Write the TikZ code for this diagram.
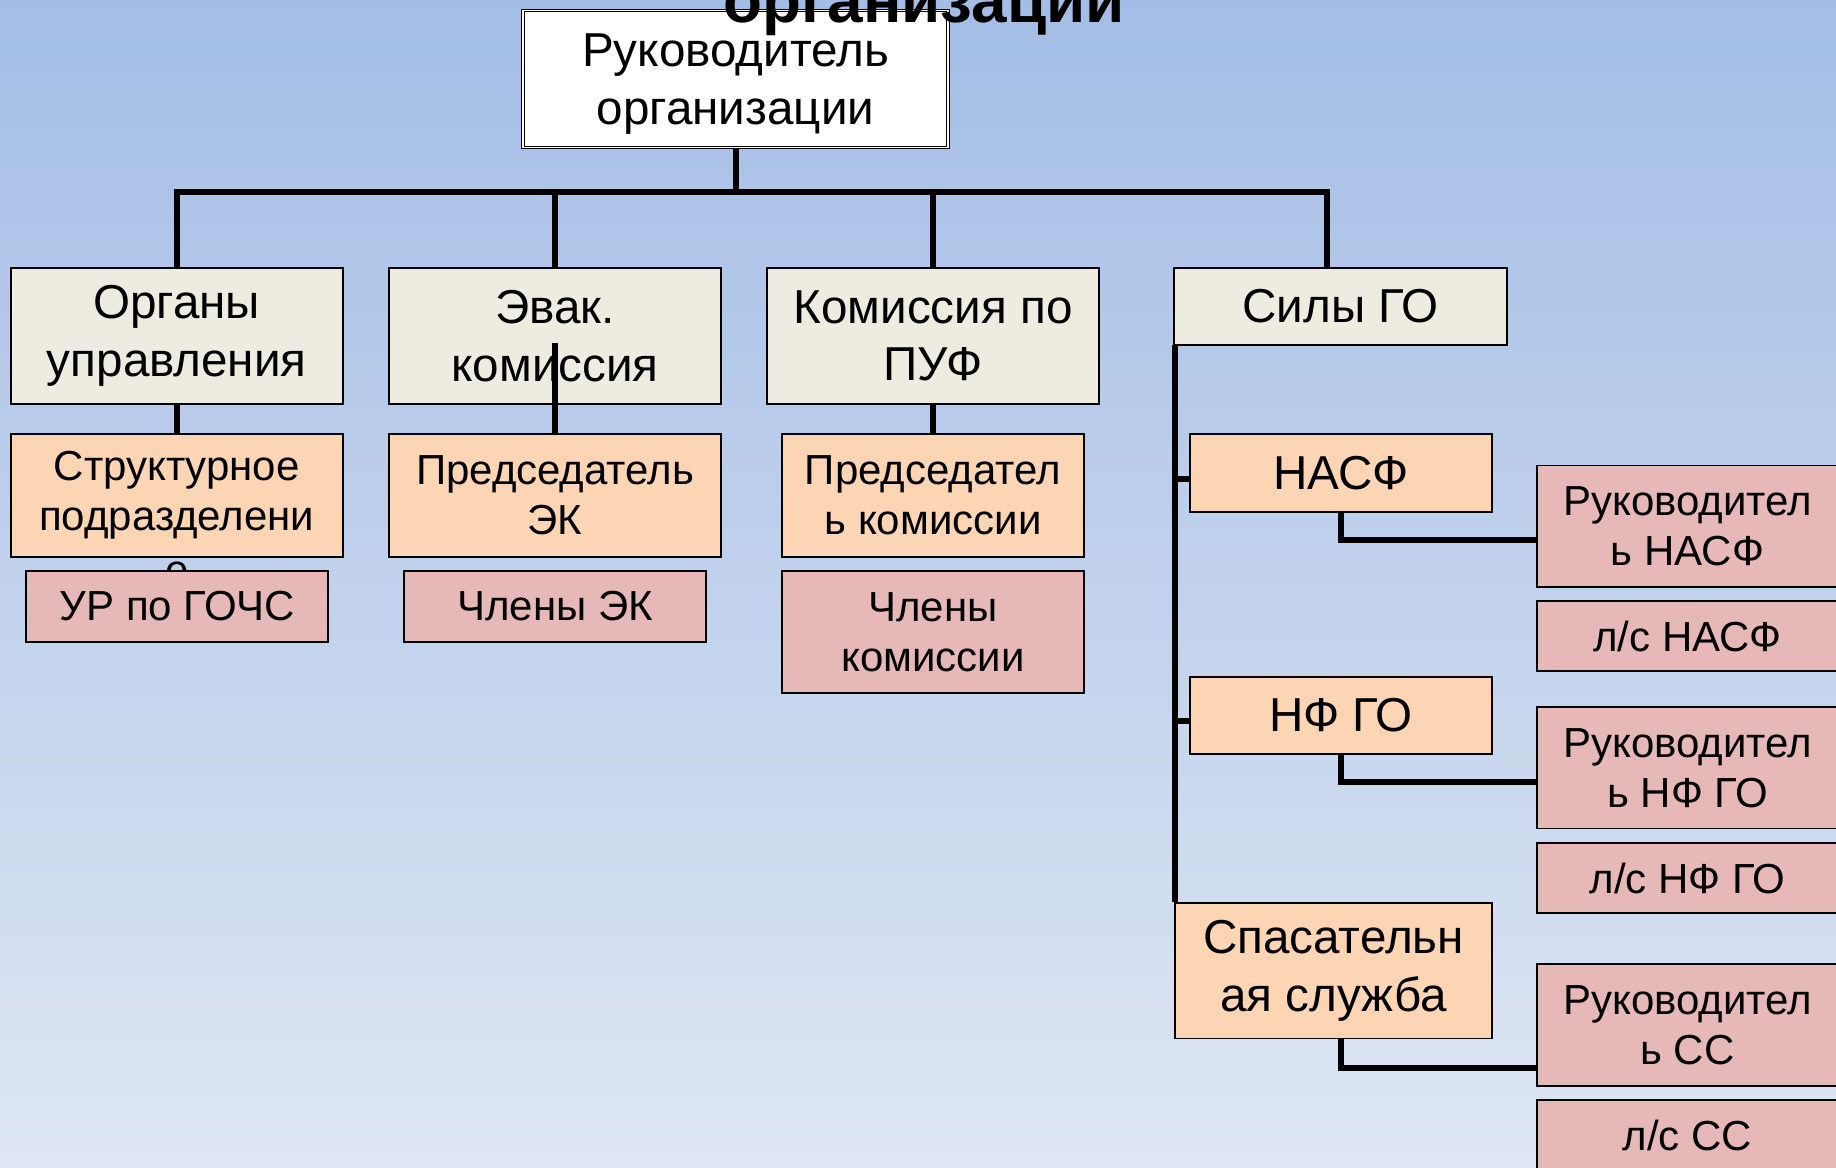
\documentclass[tikz,border=0pt]{standalone}
\usepackage{fontspec}
\setmainfont{Liberation Sans}
\newcommand\fbig{\fontsize{23.8pt}{28.75pt}\selectfont}
\newcommand\fsmall{\fontsize{21pt}{25pt}\selectfont}
\newcommand\ftitle{\fontsize{31.9pt}{38pt}\selectfont\bfseries}
\definecolor{bgtop}{RGB}{164,189,230}
\definecolor{bgbot}{RGB}{222,230,243}
\definecolor{grayfill}{RGB}{238,236,225}
\definecolor{peachf}{RGB}{252,213,181}
\definecolor{pinkf}{RGB}{230,185,184}
\begin{document}
\begin{tikzpicture}[x=0.5pt,y=-0.5pt,
  box/.style={draw=black, line width=0.75pt, rectangle, inner sep=0pt, align=center, text=black},
  lvltwo/.style={box, fill=grayfill, font=\fbig},
  peachbig/.style={box, fill=peachf, font=\fbig},
  peachsmall/.style={box, fill=peachf, font=\fsmall},
  pinkbox/.style={box, fill=pinkf, font=\fsmall},
  conn/.style={draw=black, line width=3pt, line join=miter},
]
\useasboundingbox (0,0) rectangle (1836,1167);
\clip (0,0) rectangle (1836,1167);
\shade[top color=bgtop, bottom color=bgbot] (0,0) rectangle (1836,1167);

% top
\node[box, fill=white, double, double distance=0.8pt, line width=0.45pt,
      minimum width=212.5pt, minimum height=68.5pt, font=\fbig, text depth=0pt] (top) at (735.5,79) {Руководитель\\организации};

% level 2
\node[lvltwo, minimum width=166pt, minimum height=68pt] (org) at (176.75,336) {Органы\\управления};
\node[lvltwo, minimum width=166pt, minimum height=68pt] (evak) at (555,336) {Эвак.\\комиссия};
\node[lvltwo, minimum width=166pt, minimum height=68pt] (kom) at (933,336) {Комиссия по\\ПУФ};
\node[lvltwo, minimum width=166.5pt, minimum height=38.5pt] (sily) at (1340.5,306.5) {Силы ГО};

% level 3
\node[peachsmall, minimum width=166pt, minimum height=61.5pt] (stru) at (176.75,495.5) {Структурное\\подразделени};
\node[font=\fsmall, anchor=base, inner sep=0pt] (strue) at (176.75,584) {е};
\node[peachsmall, minimum width=166pt, minimum height=61.5pt] (predek) at (555,495.5) {Председатель\\ЭК};
\node[peachsmall, minimum width=151pt, minimum height=61.5pt] (predk) at (933,495.5) {Председател\\ь комиссии};
\node[peachbig, minimum width=151pt, minimum height=39pt] (nasf) at (1341,473) {НАСФ};
\node[peachbig, minimum width=151pt, minimum height=38.5pt] (nfgo) at (1341,715.5) {НФ ГО};
\node[peachbig, minimum width=158.5pt, minimum height=67.75pt] (spas) at (1333.5,970.75) {Спасательн\\ая служба};

% level 4
\node[pinkbox, minimum width=151pt, minimum height=35.5pt] (ur) at (177,606.5) {УР по ГОЧС};
\node[pinkbox, minimum width=151pt, minimum height=35.5pt] (clenek) at (555,606.5) {Члены ЭК};
\node[pinkbox, minimum width=151pt, minimum height=61pt] (clenk) at (933,632) {Члены\\комиссии};
\node[pinkbox, minimum width=150.5pt, minimum height=60.75pt] (rukn) at (1687.5,526.25) {Руководител\\ь НАСФ};
\node[pinkbox, minimum width=150.5pt, minimum height=35pt] (lsn) at (1687.5,636) {л/с НАСФ};
\node[pinkbox, minimum width=150.5pt, minimum height=60.75pt] (rukf) at (1687.5,767.75) {Руководител\\ь НФ ГО};
\node[pinkbox, minimum width=150.5pt, minimum height=35pt] (lsf) at (1687.5,878) {л/с НФ ГО};
\node[pinkbox, minimum width=150.5pt, minimum height=61pt] (ruks) at (1687.5,1025) {Руководител\\ь СС};
\node[pinkbox, minimum width=150.5pt, minimum height=35pt] (lss) at (1687.5,1135) {л/с СС};

% connectors
\coordinate (busL) at (177,192);
\coordinate (busR) at (1327,192);
\draw[conn] (org.north) -- (org.north |- busL) -- (busR) -- (busR |- sily.north);
\draw[conn] (top.south) -- (top.south |- busL);
\draw[conn] (evak.north) -- (evak.north |- busL);
\draw[conn] (kom.north) -- (kom.north |- busL);
\draw[conn] (org.south) -- (stru.north);
\coordinate (evakin) at (555,343);
\draw[conn] (evakin) -- (predek.north);
\draw[conn] (kom.south) -- (predk.north);

\coordinate (sv) at (1174.5,345);
\draw[conn] (sv) -- (sv |- spas.north);
\coordinate (jn) at (1174.5,479);
\draw[conn] (jn) -- (jn -| nasf.west);
\coordinate (jf) at (1174.5,721);
\draw[conn] (jf) -- (jf -| nfgo.west);
\coordinate (kn) at (1341,540);
\draw[conn] (nasf.south) |- (kn -| rukn.west);
\coordinate (kf) at (1341,782);
\draw[conn] (nfgo.south) |- (kf -| rukf.west);
\coordinate (ks) at (1341,1068);
\draw[conn] (ks |- spas.south) -- (ks) -- (ks -| ruks.west);

% title (cut at top)
\node[font=\ftitle, anchor=base, inner sep=0pt, text=black] (title) at (924,23) {организации};
\end{tikzpicture}
\end{document}
